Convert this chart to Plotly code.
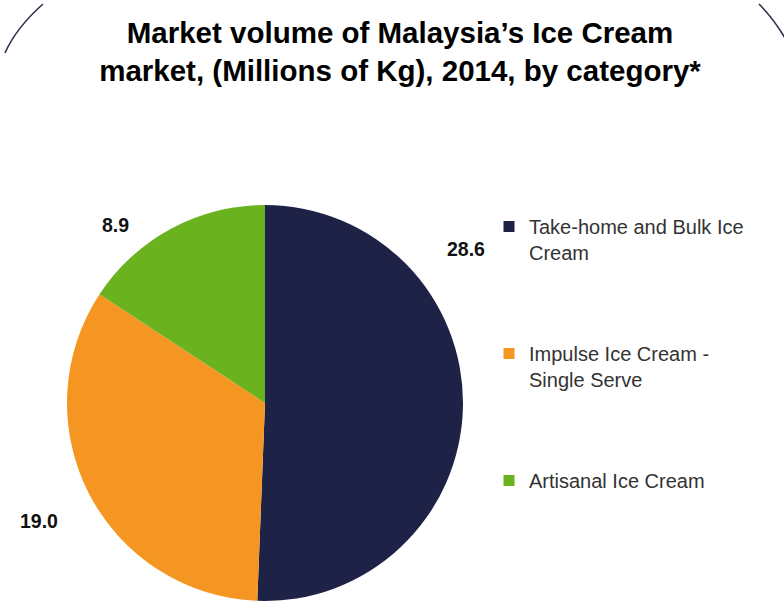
import plotly.graph_objects as go

# Market volume by category (millions of kg), 2014
categories = ["Take-home and Bulk Ice Cream", "Impulse Ice Cream - Single Serve", "Artisanal Ice Cream"]
legend_labels = ["Take-home and Bulk Ice<br>Cream", "Impulse Ice Cream -<br>Single Serve", "Artisanal Ice Cream"]
volumes = [28.6, 19.0, 8.9]
colors = ["#1E2246", "#F59623", "#6AB21E"]

W, H = 784, 601


def px(x, y):
    """Pixel position -> paper coordinates (zero margins)."""
    return x / W, 1 - y / H


fig = go.Figure()

fig.add_trace(go.Pie(
    labels=categories,
    values=volumes,
    marker=dict(colors=colors, line=dict(width=0)),
    sort=False,
    direction="clockwise",
    rotation=0,
    textinfo="none",
    hoverinfo="label+value",
    showlegend=False,
    domain=dict(x=[67 / W, 463 / W], y=[0, 1 - 205 / H]),
))

# legend entries, one group each so they can be spaced apart
for name, col in zip(legend_labels, colors):
    fig.add_trace(go.Scatter(
        x=[None], y=[None], mode="markers", name=name, legendgroup=name,
        marker=dict(symbol="square", size=11, color=col),
    ))

# value labels placed around the pie
label_pos = [(466, 249), (39, 521), (115, 225)]
annotations = []
for v, (lx, ly) in zip(volumes, label_pos):
    ax, ay = px(lx, ly)
    annotations.append(dict(
        x=ax, y=ay, xref="paper", yref="paper", text=f"{v:.1f}", showarrow=False,
        xanchor="center", yanchor="middle",
        font=dict(family="Arial, Liberation Sans", size=19.5, color="#111111", weight="bold"),
    ))

# decorative frame arcs at the top corners
def arc_path(p0, c, p1):
    (x0, y0), (cx, cy), (x1, y1) = px(*p0), px(*c), px(*p1)
    return f"M {x0},{y0} Q {cx},{cy} {x1},{y1}"


shapes = [
    dict(type="path", xref="paper", yref="paper",
         path=arc_path((43, 4), (16, 28), (5, 53)),
         line=dict(color="#2B3550", width=1.6)),
    dict(type="path", xref="paper", yref="paper",
         path=arc_path((759, 4), (773, 18), (785, 38)),
         line=dict(color="#2B3550", width=1.6)),
]

fig.update_layout(
    width=W, height=H,
    margin=dict(l=0, r=0, t=0, b=0),
    paper_bgcolor="white", plot_bgcolor="white",
    title=dict(
        text="Market volume of Malaysia’s Ice Cream<br>market, (Millions of Kg), 2014, by category*",
        x=400 / W, xanchor="center", xref="paper",
        y=1 - 43 / H, yanchor="middle", yref="container",
        font=dict(family="Arial, Liberation Sans", size=29.5, color="#000000", weight="bold"),
    ),
    xaxis=dict(visible=False), yaxis=dict(visible=False),
    legend=dict(
        x=489 / W, xanchor="left", y=1 - 207 / H, yanchor="top",
        font=dict(family="Arial, Liberation Sans", size=20, color="#333333"),
        valign="top", tracegroupgap=72, bgcolor="rgba(0,0,0,0)",
    ),
    annotations=annotations,
    shapes=shapes,
)

fig.write_html("out.html")
